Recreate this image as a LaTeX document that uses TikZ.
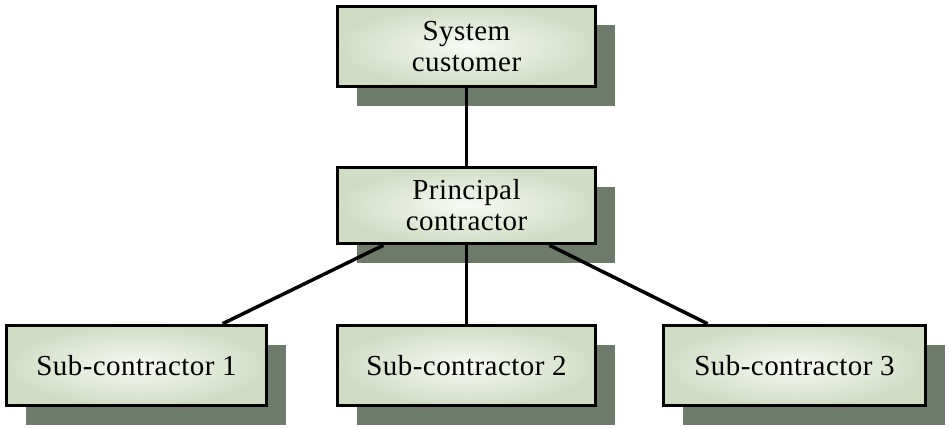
\documentclass[tikz,border=0pt]{standalone}
\usepackage{fontspec}
\setmainfont{Liberation Serif}[LetterSpace=1.5]
\usetikzlibrary{shadows}
\definecolor{boxgreen}{RGB}{208,221,196}
\definecolor{boxlight}{RGB}{248,250,245}
\definecolor{shadowgreen}{RGB}{110,122,106}

\begin{document}
\begin{tikzpicture}[x=1pt,y=-1pt,
    box/.style={draw,line width=3.5pt,rectangle,minimum width=258pt,minimum height=80pt,
        inner color=boxlight,outer color=boxgreen,align=center,
        font=\fontsize{29}{31}\selectfont,
        general shadow={fill=shadowgreen,shadow xshift=19pt,shadow yshift=-19pt}},
    link/.style={line width=3.5pt}]
                        \useasboundingbox (0,0) rectangle (950,428);
                        \node[box] (sc) at (466.5,46.5) {System\\customer};
                        \node[box,minimum height=76pt] (pc) at (466.5,205.5) {Principal\\contractor};
                        \node[box,minimum width=260pt] (s1) at (136.5,365.5) {Sub-contractor 1};
                        \node[box] (s2) at (466.5,365.5) {Sub-contractor 2};
                        \node[box,minimum width=262pt] (s3) at (794.5,365.5) {Sub-contractor 3};
                        \draw[link] (sc) -- (pc);
                        \draw[link] ([xshift=-83pt]pc.south) -- ([xshift=86pt]s1.north);
                        \draw[link] (pc) -- (s2);
                        \draw[link] ([xshift=83pt]pc.south) -- ([xshift=-87pt]s3.north);
                    \end{tikzpicture}
\end{document}
